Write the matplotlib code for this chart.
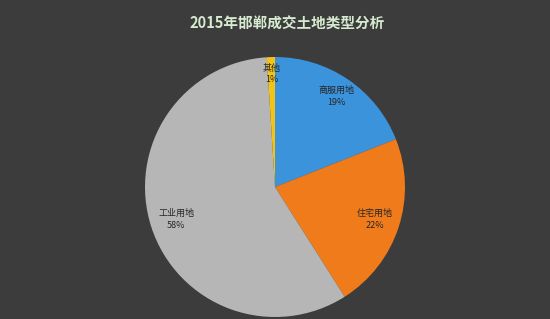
import numpy as np
import matplotlib
matplotlib.use("Agg")
import matplotlib.pyplot as plt

plt.rcParams['font.family'] = ['Noto Sans CJK SC', 'DejaVu Sans']

# 数据
categories = ["商服用地", "住宅用地", "工业用地", "其他"]
shares = [19, 22, 58, 1]
colors = ["#3b93dc", "#f07b1b", "#b6b6b6", "#f3c316"]
label_dist = [0.84, 0.81, 0.80, 0.87]

fig = plt.figure(figsize=(5.5, 3.19), dpi=100)
fig.patch.set_facecolor("#3c3c3c")
ax = fig.add_axes([0, 0, 1, 1])
ax.set_facecolor("#3c3c3c")

cx, cy, r = 275, 319 - 187, 130
wedges, _ = ax.pie(shares, colors=colors, startangle=90, counterclock=False,
                   center=(cx, cy), radius=r, frame=True,
                   wedgeprops=dict(linewidth=0))
ax.set_xlim(0, 550)
ax.set_ylim(0, 319)
ax.set_aspect("equal")
ax.axis("off")

for w, name, val, d in zip(wedges, categories, shares, label_dist):
    ang = np.deg2rad((w.theta1 + w.theta2) / 2)
    x = cx + d * r * np.cos(ang)
    y = cy + d * r * np.sin(ang)
    ax.text(x, y, f"{name}\n{val}%", ha="center", va="center",
            fontsize=6.5, color="#262626", linespacing=1.4)

fig.text(0.522, 0.925, "2015年邯郸成交土地类型分析", ha="center", va="center",
         fontsize=10.5, fontweight="bold", color="#d6ead0")

fig.savefig("out.png", dpi=100, facecolor=fig.get_facecolor())
